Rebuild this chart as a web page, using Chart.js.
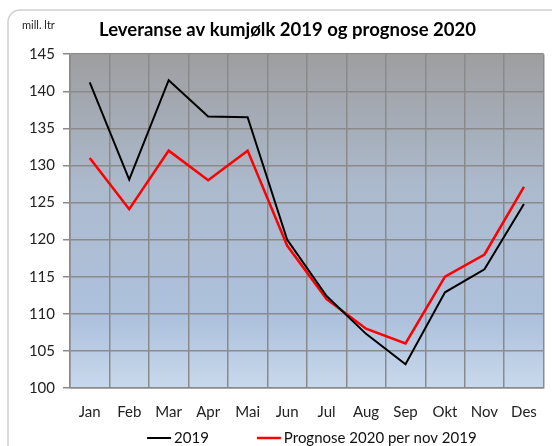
<!DOCTYPE html>
<html>
<head>
<meta charset="utf-8">
<script src="https://cdn.jsdelivr.net/npm/chart.js@4.4.1/dist/chart.umd.min.js"></script>
<style>
  html, body { margin: 0; padding: 0; background: #fff; }
  #wrap { width: 552px; height: 446px; }
</style>
</head>
<body>
<div id="wrap"><canvas id="chart"></canvas></div>
<script>
// mill. ltr per month
var months = ["Jan", "Feb", "Mar", "Apr", "Mai", "Jun", "Jul", "Aug", "Sep", "Okt", "Nov", "Des"];
var lev2019 = [141.2, 128.1, 141.5, 136.6, 136.5, 120.0, 112.4, 107.3, 103.2, 112.9, 116.0, 124.8];
var prognose2020 = [131.0, 124.1, 132.0, 128.0, 132.0, 119.2, 112.0, 108.0, 106.0, 115.0, 118.0, 127.1];
var yMin = 100, yMax = 145, yStep = 5;

var FONT = "Lato, 'Open Sans', sans-serif";

// frame round the whole chart + gradient plot background + unit text
var decor = {
  id: 'decor',
  beforeDraw: function(chart) {
    var ctx = chart.ctx, a = chart.chartArea;
    ctx.save();
    // rounded outer frame
    ctx.strokeStyle = '#cfcfcf';
    ctx.lineWidth = 1.5;
    ctx.beginPath();
    ctx.roundRect(8, 10, 560, 460, 12);
    ctx.stroke();
    // plot area fill
    var g = ctx.createLinearGradient(0, a.top, 0, a.bottom);
    g.addColorStop(0, '#9e9ea0');
    g.addColorStop(0.4, '#acbacd');
    g.addColorStop(0.8, '#aec2dd');
    g.addColorStop(1, '#c9d9ec');
    ctx.fillStyle = g;
    ctx.fillRect(a.left, a.top, a.right - a.left, a.bottom - a.top);
    // unit label
    ctx.fillStyle = '#222';
    ctx.font = '11px ' + FONT;
    ctx.textBaseline = 'middle';
    ctx.fillText('mill. ltr', 22, 25);
    ctx.restore();
  },
  afterDraw: function(chart) {
    // legend with short lines, spaced like the original
    var ctx = chart.ctx, a = chart.chartArea;
    var sets = chart.data.datasets;
    ctx.save();
    ctx.font = '15px ' + FONT;
    var lineW = 24, gap = 3, itemGap = 48;
    var widths = sets.map(function(ds) { return lineW + gap + ctx.measureText(ds.label).width; });
    var total = widths.reduce(function(s, w) { return s + w; }, 0) + itemGap * (sets.length - 1);
    var x = (a.left + a.right) / 2 - total / 2 + 5;
    var y = 438;
    sets.forEach(function(ds, i) {
      ctx.strokeStyle = ds.borderColor;
      ctx.lineWidth = ds.borderWidth;
      ctx.beginPath();
      ctx.moveTo(x, y);
      ctx.lineTo(x + lineW, y);
      ctx.stroke();
      ctx.fillStyle = '#111';
      ctx.textBaseline = 'middle';
      ctx.fillText(ds.label, x + lineW + gap, y);
      x += widths[i] + itemGap;
    });
    ctx.restore();
  }
};

var chart = new Chart(document.getElementById('chart'), {
  type: 'line',
  data: {
    labels: months,
    datasets: [
      {
        label: '2019',
        data: lev2019,
        borderColor: '#000000',
        borderWidth: 2,
        pointRadius: 0,
        tension: 0
      },
      {
        label: 'Prognose 2020 per nov 2019',
        data: prognose2020,
        borderColor: '#ff0000',
        borderWidth: 2.5,
        pointRadius: 0,
        tension: 0
      }
    ]
  },
  options: {
    responsive: true,
    maintainAspectRatio: false,
    animation: false,
    layout: { padding: { left: 28, right: 5, top: 0, bottom: 10 } },
    plugins: {
      legend: { display: false },
      tooltip: { enabled: false },
      title: {
        display: true,
        text: 'Leveranse av kumjølk 2019 og prognose 2020',
        color: '#000',
        font: { family: FONT, size: 18.5, weight: 'bold' },
        padding: { top: 19, bottom: 13 }
      }
    },
    scales: {
      x: {
        offset: true,
        grid: { offset: true, color: '#8a8a8a', lineWidth: 1.5, drawTicks: false },
        border: { color: '#8a8a8a', width: 1.5 },
        ticks: { color: '#222', font: { family: FONT, size: 15 }, padding: 15 }
      },
      y: {
        min: yMin,
        max: yMax,
        ticks: { stepSize: yStep, color: '#222', font: { family: FONT, size: 15 }, padding: 8 },
        grid: { color: '#8a8a8a', lineWidth: 1.5, tickLength: 7 },
        border: { color: '#8a8a8a', width: 1.5 },
        afterFit: function(scale) { scale.width = 42; }
      }
    }
  },
  plugins: [decor]
});
</script>
</body>
</html>
